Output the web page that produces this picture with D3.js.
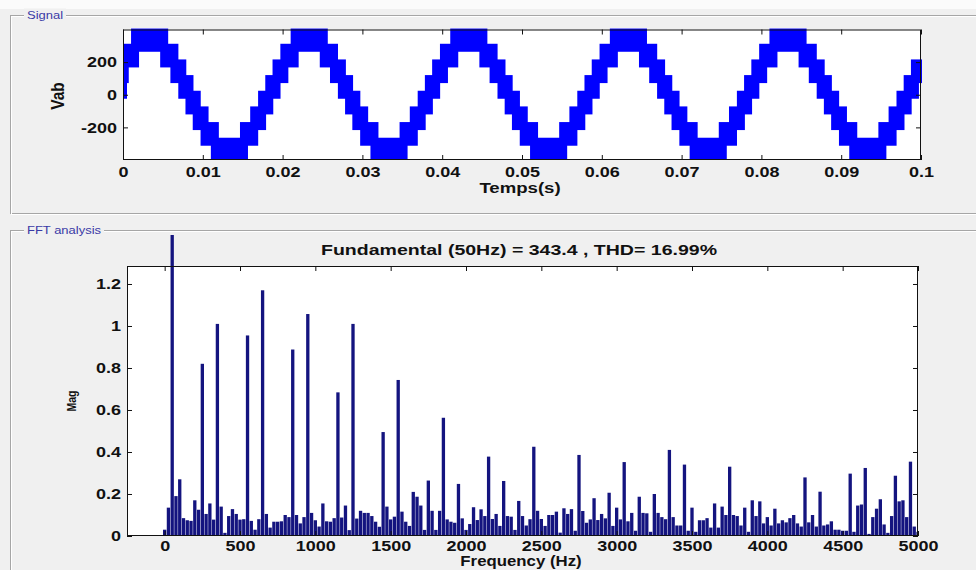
<!DOCTYPE html>
<html>
<head>
<meta charset="utf-8">
<script src="https://cdn.jsdelivr.net/npm/d3@7/dist/d3.min.js"></script>
<style>
  html, body { margin: 0; padding: 0; background: #f0f0f0; }
  svg { display: block; }
</style>
</head>
<body>
<svg id="fig" width="976" height="570"></svg>
<script>
// ---------------- Signal panel data ----------------
// Inverter line voltage: each entry starts a switching band between
// `level` and `level + levelStep` (PWM between two adjacent levels).
const levelStep = 96;                       // V between inverter levels
const signalEndMs = 100;
const signalStepMs = [
  0, 0, 0.22, 1.51, 5.16, 6.44, 7.43, 8.33, 9.24, 10.22, 11.51, 15.16, 16.44, 17.43, 18.33, 19.24,
  20.22, 21.51, 25.16, 26.44, 27.43, 28.33, 29.24, 30.22, 31.51, 35.16, 36.44, 37.43, 38.33, 39.24,
  40.22, 41.51, 45.16, 46.44, 47.43, 48.33, 49.24, 50.22, 51.51, 55.16, 56.44, 57.43, 58.33, 59.24,
  60.22, 61.51, 65.16, 66.44, 67.43, 68.33, 69.24, 70.22, 71.51, 75.16, 76.44, 77.43, 78.33, 79.24,
  80.22, 81.51, 85.16, 86.44, 87.43, 88.33, 89.24, 90.22, 91.51, 95.16, 96.44, 97.43, 98.33, 99.24
];
const signalStepLevels = [
  0, 96, 192, 288, 192, 96, 0, -96, -192, -288, -384, -288, -192, -96, 0, 96,
  192, 288, 192, 96, 0, -96, -192, -288, -384, -288, -192, -96, 0, 96,
  192, 288, 192, 96, 0, -96, -192, -288, -384, -288, -192, -96, 0, 96,
  192, 288, 192, 96, 0, -96, -192, -288, -384, -288, -192, -96, 0, 96,
  192, 288, 192, 96, 0, -96, -192, -288, -384, -288, -192, -96, 0, 96
];
const signalXTicks = [0, 0.01, 0.02, 0.03, 0.04, 0.05, 0.06, 0.07, 0.08, 0.09, 0.1];
const signalXLabels = ["0", "0.01", "0.02", "0.03", "0.04", "0.05", "0.06", "0.07", "0.08", "0.09", "0.1"];
const signalYTicks = [-200, 0, 200];
const signalYLabels = ["-200", "0", "200"];

// ---------------- FFT panel data ----------------
// Harmonic magnitudes (% of fundamental), one bin every 25 Hz from 0 to 5000 Hz.
const fftBinHz = 25;
const fftMag = [
  0.03, 0.135, 100, 0.19, 0.27, 0.085, 0.075, 0.072, 0.17, 0.125,
  0.82, 0.105, 0.155, 0.078, 1.01, 0.14, 0.015, 0.095, 0.128, 0.105,
  0.078, 0.08, 0.955, 0.072, 0.03, 0.08, 1.17, 0.105, 0.04, 0.068,
  0.068, 0.07, 0.1, 0.09, 0.888, 0.1, 0.06, 0.09, 1.057, 0.11,
  0.075, 0.045, 0.155, 0.07, 0.068, 0.085, 0.684, 0.088, 0.145, 0.028,
  1.01, 0.083, 0.12, 0.11, 0.11, 0.095, 0.068, 0.044, 0.495, 0.14,
  0.079, 0.092, 0.743, 0.116, 0.068, 0.048, 0.21, 0.187, 0.145, 0.029,
  0.264, 0.12, 0.029, 0.12, 0.563, 0.079, 0.068, 0.063, 0.248, 0.084,
  0.029, 0.057, 0.137, 0.076, 0.127, 0.095, 0.378, 0.081, 0.105, 0.048,
  0.262, 0.095, 0.092, 0.029, 0.167, 0.095, 0.05, 0.08, 0.425, 0.12,
  0.081, 0.048, 0.1, 0.1, 0.116, 0.016, 0.132, 0.105, 0.128, 0.025,
  0.386, 0.119, 0.063, 0.079, 0.18, 0.076, 0.105, 0.084, 0.206, 0.048,
  0.135, 0.079, 0.352, 0.07, 0.11, 0.025, 0.187, 0.11, 0.108, 0.02,
  0.2, 0.11, 0.09, 0.08, 0.41, 0.09, 0.05, 0.05, 0.34, 0.025,
  0.135, 0.02, 0.075, 0.075, 0.085, 0.04, 0.155, 0.04, 0.14, 0.1,
  0.33, 0.1, 0.095, 0.05, 0.135, 0.02, 0.17, 0.095, 0.165, 0.06,
  0.09, 0.05, 0.13, 0.06, 0.075, 0.065, 0.085, 0.1, 0.06, 0.045,
  0.279, 0.065, 0.1, 0.045, 0.211, 0.05, 0.055, 0.07, 0.03, 0.03,
  0.025, 0.025, 0.297, 0.02, 0.145, 0.15, 0.324, 0.01, 0.09, 0.13,
  0.175, 0.055, 0.015, 0.095, 0.287, 0.165, 0.17, 0.09, 0.354, 0.045,
  0.02
];
const fftXTicks = [0, 500, 1000, 1500, 2000, 2500, 3000, 3500, 4000, 4500, 5000];
const fftXLabels = ["0", "500", "1000", "1500", "2000", "2500", "3000", "3500", "4000", "4500", "5000"];
const fftYTicks = [0, 0.2, 0.4, 0.6, 0.8, 1, 1.2];
const fftYLabels = ["0", "0.2", "0.4", "0.6", "0.8", "1", "1.2"];
const fftTitle = "Fundamental (50Hz) = 343.4 , THD= 16.99%";

// ---------------- drawing ----------------
const W = 976, H = 570;
const FONT = "'Liberation Sans', Arial, Helvetica, sans-serif";
const STRETCH = 1.2;
const svg = d3.select("#fig");

svg.append("rect").attr("width", W).attr("height", H).attr("fill", "#f0f0f0");
svg.append("rect").attr("width", W).attr("height", 9).attr("fill", "#fbfbfb");

function panelFrame(y0, y1, title, gapW) {
  const g = svg.append("g");
  g.append("rect").attr("x", 10.5).attr("y", y0).attr("width", 1000).attr("height", y1 - y0)
    .attr("fill", "none").attr("stroke", "#a6a6a6");
  g.append("rect").attr("x", 11.5).attr("y", y0 + 1).attr("width", 1000).attr("height", y1 - y0)
    .attr("fill", "none").attr("stroke", "#ffffff");
  g.append("rect").attr("x", 24).attr("y", y0 - 7).attr("width", gapW).attr("height", 14).attr("fill", "#f0f0f0");
  g.append("text").attr("transform", `translate(27,${y0 + 3.5}) scale(1.3,1)`)
    .attr("font-family", FONT).attr("font-size", 10).attr("fill", "#3a3aa6").text(title);
}
panelFrame(15.5, 213.5, "Signal", 42);
panelFrame(230.5, 640, "FFT analysis", 80);

function stretchedText(g, x, y, txt, size, anchor) {
  return g.append("text")
    .attr("transform", `translate(${x},${y}) scale(${STRETCH},1)`)
    .attr("font-family", FONT).attr("font-weight", "bold").attr("font-size", size)
    .attr("fill", "#111").attr("text-anchor", anchor).text(txt);
}

function axesFrame(box, x, y, xTicks, xLabels, yTicks, yLabels, xPad) {
  const g = svg.append("g");
  const style = sel => sel.attr("font-family", FONT).attr("font-weight", "bold")
    .attr("font-size", 15).attr("color", "#111");
  const bottom = g.append("g").attr("transform", `translate(0,${box.b})`)
    .call(d3.axisBottom(x).tickValues(xTicks).tickFormat((d, i) => xLabels[i])
      .tickSizeInner(-5).tickSizeOuter(0).tickPadding(xPad));
  const top = g.append("g").attr("transform", `translate(0,${box.t})`)
    .call(d3.axisTop(x).tickValues(xTicks).tickFormat("").tickSizeInner(-5).tickSizeOuter(0));
  const left = g.append("g").attr("transform", `translate(${box.l},0)`)
    .call(d3.axisLeft(y).tickValues(yTicks).tickFormat((d, i) => yLabels[i])
      .tickSizeInner(-5).tickSizeOuter(0).tickPadding(5));
  const right = g.append("g").attr("transform", `translate(${box.r},0)`)
    .call(d3.axisRight(y).tickValues(yTicks).tickFormat("").tickSizeInner(-5).tickSizeOuter(0));
  [bottom, top, left, right].forEach(a => { style(a); a.select(".domain").remove(); });
  g.selectAll(".tick text").attr("transform", `scale(${STRETCH},1)`);
  g.append("rect").attr("x", box.l + 0.5).attr("y", box.t + 0.5)
    .attr("width", box.r - box.l - 1).attr("height", box.b - box.t - 1)
    .attr("fill", "none").attr("stroke", "#111");
  return g;
}

// ----- Signal: Vab vs time -----
const sBox = { l: 123, r: 921, t: 29.5, b: 160 };
const sx = d3.scaleLinear().domain([0, 0.1]).range([sBox.l, sBox.r]);
const sy = d3.scaleLinear().domain([-400, 400]).range([sBox.b, sBox.t]);

svg.append("rect").attr("x", sBox.l).attr("y", sBox.t).attr("width", sBox.r - sBox.l)
  .attr("height", sBox.b - sBox.t).attr("fill", "#fff");
svg.append("clipPath").attr("id", "sigClip").append("rect")
  .attr("x", sBox.l).attr("y", sBox.t - 1).attr("width", sBox.r - sBox.l + 1).attr("height", sBox.b - sBox.t + 1);

const bands = signalStepMs.map((ms, i) => ({
  t0: ms / 1000,
  t1: (i + 1 < signalStepMs.length ? signalStepMs[i + 1] : signalEndMs) / 1000,
  lo: signalStepLevels[i],
  hi: signalStepLevels[i] + levelStep
}));
const mk = 4; // half size of the square markers
svg.append("g").attr("clip-path", "url(#sigClip)")
  .selectAll("rect").data(bands).join("rect")
  .attr("x", d => sx(d.t0) - mk)
  .attr("width", d => sx(d.t1) - sx(d.t0) + 2 * mk)
  .attr("y", d => sy(d.hi) - mk)
  .attr("height", d => sy(d.lo) - sy(d.hi) + 2 * mk)
  .attr("fill", "#0000ff");

axesFrame(sBox, sx, sy, signalXTicks, signalXLabels, signalYTicks, signalYLabels, 6);
stretchedText(svg, 520, 193, "Temps(s)", 15.5, "middle");
svg.append("text").attr("transform", "translate(64,96) scale(1.2,1) rotate(-90)")
  .attr("font-family", FONT).attr("font-weight", "bold").attr("font-size", 15.5)
  .attr("fill", "#111").attr("text-anchor", "middle").text("Vab");

// ----- FFT analysis -----
const fBox = { l: 127, r: 918, t: 266, b: 536 };
const fx = d3.scaleLinear().domain([-250, 5000]).range([fBox.l, fBox.r]);
const fy = d3.scaleLinear().domain([0, 1.2857]).range([fBox.b, fBox.t]);

svg.append("rect").attr("x", fBox.l).attr("y", fBox.t).attr("width", fBox.r - fBox.l)
  .attr("height", fBox.b - fBox.t).attr("fill", "#fff");
svg.append("clipPath").attr("id", "fftClip").append("rect")
  .attr("x", fBox.l).attr("y", 235).attr("width", fBox.r - fBox.l).attr("height", fBox.b - 235);

const binPx = fx(fftBinHz) - fx(0);
const barW = binPx * 0.88;
svg.append("g").attr("clip-path", "url(#fftClip)")
  .selectAll("rect").data(fftMag).join("rect")
  .attr("x", (d, i) => fx(i * fftBinHz) - barW / 2)
  .attr("width", barW)
  .attr("y", d => fy(d))
  .attr("height", d => fy(0) - fy(d))
  .attr("fill", "#14147f");

axesFrame(fBox, fx, fy, fftXTicks, fftXLabels, fftYTicks, fftYLabels, 4);
svg.append("text").attr("x", 519).attr("y", 255).attr("text-anchor", "middle")
  .attr("font-family", FONT).attr("font-weight", "bold").attr("font-size", 15)
  .attr("fill", "#111").attr("textLength", 396).attr("lengthAdjust", "spacingAndGlyphs")
  .text(fftTitle);
stretchedText(svg, 521, 566, "Frequency (Hz)", 14, "middle");
svg.append("text").attr("transform", "translate(76,401) scale(1.2,1) rotate(-90)")
  .attr("font-family", FONT).attr("font-weight", "bold").attr("font-size", 10.5)
  .attr("fill", "#111").attr("text-anchor", "middle").text("Mag");
</script>
</body>
</html>
